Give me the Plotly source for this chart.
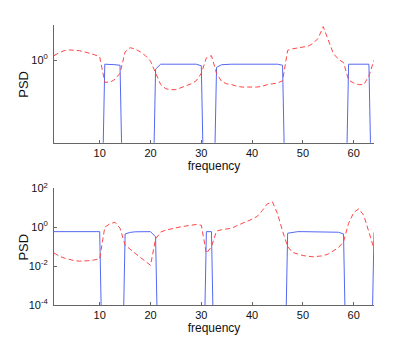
import plotly.graph_objects as go
from plotly.subplots import make_subplots

freq = list(range(1, 65))

# top panel
top_blue = [
    0.004, 0.004, 0.004, 0.004, 0.004, 0.004, 0.004, 0.004, 0.004, 0.004,
    0.92, 0.92, 0.91, 0.90, 0.004, 0.004, 0.004, 0.004, 0.004, 0.004,
    0.83, 0.92, 0.92, 0.92, 0.92, 0.92, 0.92, 0.92, 0.92, 0.89,
    0.004, 0.004, 0.86, 0.91, 0.92, 0.92, 0.92, 0.92, 0.92, 0.92,
    0.92, 0.92, 0.92, 0.92, 0.92, 0.90, 0.004, 0.004, 0.004, 0.004,
    0.004, 0.004, 0.004, 0.004, 0.004, 0.004, 0.004, 0.004, 0.92, 0.92,
    0.92, 0.92, 0.92, 0.004,
]
top_red = [
    1.10, 1.17, 1.22, 1.24, 1.23, 1.22, 1.19, 1.16, 1.12, 1.07,
    0.63, 0.63, 0.67, 0.76, 1.19, 1.30, 1.26, 1.19, 1.10, 0.98,
    0.76, 0.60, 0.55, 0.54, 0.54, 0.56, 0.58, 0.61, 0.65, 0.76,
    1.05, 1.10, 0.76, 0.64, 0.61, 0.60, 0.58, 0.57, 0.57, 0.57,
    0.57, 0.58, 0.60, 0.61, 0.62, 0.65, 1.23, 1.27, 1.29, 1.31,
    1.34, 1.42, 1.58, 2.02, 1.51, 1.15, 1.02, 0.95, 0.66, 0.62,
    0.60, 0.60, 0.72, 1.00,
]

# bottom panel
bottom_blue = [
    0.59, 0.59, 0.59, 0.59, 0.59, 0.59, 0.59, 0.59, 0.59, 0.59,
    1e-14, 1e-14, 1e-14, 1e-14, 0.45, 0.54, 0.58, 0.59, 0.59, 0.59,
    0.32, 1e-14, 1e-14, 1e-14, 1e-14, 1e-14, 1e-14, 1e-14, 1e-14, 1e-14,
    0.59, 0.59, 1e-14, 1e-14, 1e-14, 1e-14, 1e-14, 1e-14, 1e-14, 1e-14,
    1e-14, 1e-14, 1e-14, 1e-14, 1e-14, 1e-14, 0.49, 0.55, 0.59, 0.59,
    0.59, 0.59, 0.59, 0.59, 0.59, 0.59, 0.55, 0.45, 1e-14, 1e-14,
    1e-14, 1e-14, 1e-14, 0.54,
]
bottom_red = [
    0.047, 0.033, 0.026, 0.022, 0.019, 0.018, 0.018, 0.019, 0.021, 0.024,
    1.0, 1.5, 1.8, 0.89, 0.12, 0.071, 0.045, 0.028, 0.018, 0.011,
    0.25, 0.56, 0.71, 0.83, 0.93, 1.05, 1.15, 1.26, 1.38, 1.26,
    0.045, 0.10, 0.63, 0.74, 0.78, 0.89, 1.2, 1.5, 2.0, 2.6,
    3.6, 7.1, 15.8, 20.0, 5.0, 0.63, 0.10, 0.050, 0.040, 0.035,
    0.032, 0.030, 0.032, 0.034, 0.042, 0.060, 0.089, 0.18, 1.6, 5.6,
    8.9, 4.0, 0.63, 0.079,
]

x_ticks = [10, 20, 30, 40, 50, 60]
top_ticks = [1]
top_ticktext = ["10<sup>0</sup>"]
bottom_ticks = [1e-4, 1e-2, 1, 1e2]
bottom_ticktext = ["10<sup>-4</sup>", "10<sup>-2</sup>", "10<sup>0</sup>", "10<sup>2</sup>"]

BLUE = "#5468f2"
RED = "#ff4545"
AXIS = "#666666"
FONT = "Liberation Sans, Arial, sans-serif"

fig = make_subplots(rows=2, cols=1)

for row, blue, red in [(1, top_blue, top_red), (2, bottom_blue, bottom_red)]:
    fig.add_trace(
        go.Scatter(x=freq, y=blue, mode="lines",
                   line=dict(color=BLUE, width=1), showlegend=False),
        row=row, col=1,
    )
    fig.add_trace(
        go.Scatter(x=freq, y=red, mode="lines",
                   line=dict(color=RED, width=1, dash="5px,3px"), showlegend=False),
        row=row, col=1,
    )

axis_common = dict(
    showline=True,
    linecolor=AXIS,
    linewidth=1,
    ticks="inside",
    ticklen=3,
    tickcolor=AXIS,
    showgrid=False,
    zeroline=False,
    mirror=False,
    automargin=False,
    tickfont=dict(family=FONT, size=11, color="#111"),
)

fig.update_xaxes(
    range=[1, 64], tickvals=x_ticks,
    title=dict(text="frequency", font=dict(family=FONT, size=12, color="#111"), standoff=2),
    **axis_common,
)
fig.update_yaxes(type="log", ticklabelstandoff=3, **axis_common)
fig.update_yaxes(range=[-0.75, 0.32], tickvals=top_ticks, ticktext=top_ticktext,
                 domain=[0.5796, 1.0], row=1, col=1)
fig.update_yaxes(range=[-4, 2], tickvals=bottom_ticks, ticktext=bottom_ticktext,
                 domain=[0.0, 0.4168], row=2, col=1)

# y labels placed at the same x for both panels
for y_mid in [0.7898, 0.2084]:
    fig.add_annotation(
        text="PSD", x=-0.094, y=y_mid, xref="paper", yref="paper",
        textangle=-90, showarrow=False, xanchor="center", yanchor="middle",
        font=dict(family=FONT, size=13, color="#111"),
    )

# page body adds an 8px margin, so the figure is sized to sit inside it
fig.update_layout(
    width=398,
    height=327,
    margin=dict(l=46, r=32, t=17, b=30),
    plot_bgcolor="white",
    paper_bgcolor="white",
    font=dict(family=FONT),
)

fig.write_html("out.html")
